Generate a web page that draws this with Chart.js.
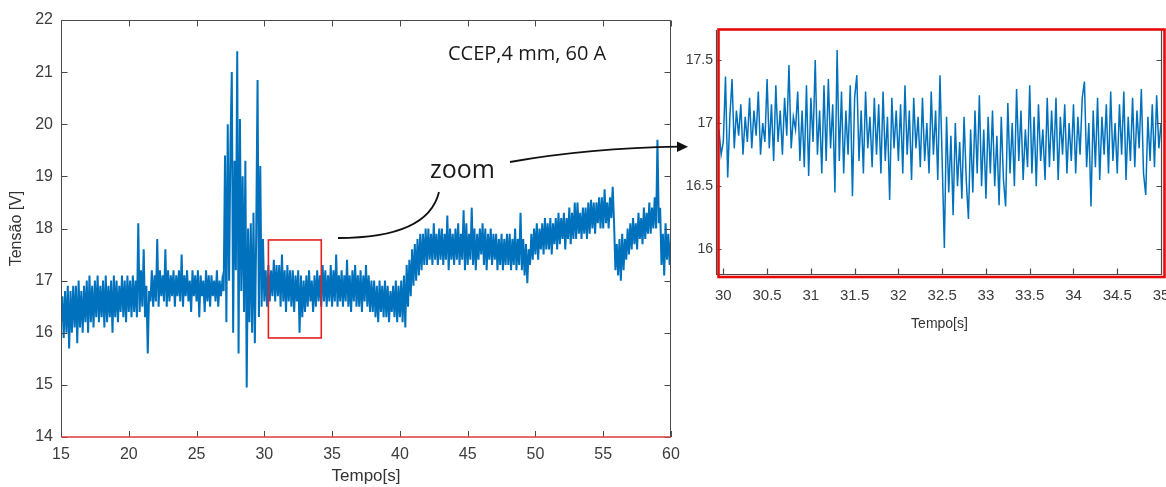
<!DOCTYPE html>
<html><head><meta charset="utf-8">
<script src="https://cdn.jsdelivr.net/npm/chart.js@4.4.1/dist/chart.umd.min.js"></script>
<style>
html,body{margin:0;padding:0;background:#fff;width:1166px;height:487px;overflow:hidden}
body{position:relative}
#c1{position:absolute;left:0;top:0}
#c2{position:absolute;left:680px;top:0}
#ov{position:absolute;left:0;top:0}
</style></head><body>
<canvas id="c1" width="690" height="487"></canvas>
<canvas id="c2" width="486" height="345"></canvas>
<svg id="ov" width="1166" height="487" xmlns="http://www.w3.org/2000/svg">
  <text x="448" y="60" font-family="Open Sans" font-size="20" fill="#1a1a1a">CCEP,4 mm, 60 A</text>
  <text x="430" y="178" font-family="Open Sans" font-size="25" fill="#1a1a1a">zoom</text>
  <path d="M338,238 Q428,238 439,192" stroke="#111" stroke-width="1.8" fill="none"/>
  <path d="M510,162 Q590,148 679,146.7" stroke="#111" stroke-width="1.8" fill="none"/>
  <polygon points="677,141.5 688,146.7 677,152" fill="#111"/>
</svg>
<script>
// ---------- DATA ----------
// Full record: sample start / step (s) and voltages (V)
const FULL_T0 = 15, FULL_DT = 0.1;
const FULL_V = [
16.2,16.7,15.9,16.8,16.0,16.9,15.7,16.8,16.0,16.9,
16.1,16.9,15.8,17.0,16.1,16.8,16.0,16.9,16.2,17.0,
16.0,17.1,16.2,16.9,16.1,17.0,16.3,17.1,16.2,16.9,
16.3,17.0,16.1,17.1,16.2,16.9,16.3,17.0,16.0,17.1,
16.3,17.0,16.2,16.9,16.4,17.1,16.3,17.0,16.2,17.1,
16.4,17.0,16.3,17.1,16.4,17.0,16.3,18.1,16.4,17.2,
16.5,17.6,16.3,16.9,15.6,16.8,16.6,17.2,16.5,17.1,
16.6,17.8,16.5,17.2,16.7,17.1,16.6,17.6,16.5,17.2,
16.6,17.1,16.7,17.2,16.5,17.1,16.7,17.2,16.6,17.5,
16.5,17.1,16.7,17.2,16.6,17.0,16.4,17.2,16.7,17.1,
16.6,17.2,16.3,17.1,16.7,17.0,16.4,17.2,16.6,17.1,
16.5,17.1,16.7,17.0,16.6,17.2,16.5,17.0,16.7,17.0,
16.8,19.4,16.2,20.0,17.0,19.6,21.0,16.0,19.3,17.2,
21.4,15.6,20.1,16.8,19.0,16.4,19.3,14.95,18.0,16.2,
18.1,16.0,18.3,15.8,17.9,20.85,16.3,19.2,16.5,17.8,
16.6,17.2,16.5,17.3,16.6,17.2,16.7,17.4,16.6,17.3,
16.7,17.3,16.5,17.5,16.6,17.2,16.4,17.3,16.6,17.2,
16.5,17.2,16.4,17.1,16.6,17.2,16.0,17.1,16.3,17.0,
16.4,17.1,16.5,17.2,16.6,17.0,16.4,17.1,16.5,17.2,
16.6,17.1,16.5,17.3,16.6,17.2,16.5,17.1,16.6,17.3,
16.5,17.2,16.6,17.5,16.5,17.1,16.6,17.2,16.5,17.1,
16.6,17.4,16.5,17.1,16.4,17.2,16.6,17.3,16.5,17.1,
16.5,17.2,16.4,17.1,16.6,17.3,16.5,17.1,16.4,17.0,
16.4,17.0,16.3,16.9,16.2,17.0,16.4,16.9,16.3,17.0,
16.3,16.9,16.2,16.8,16.4,16.9,16.3,17.0,16.2,16.9,
16.3,17.0,16.2,17.1,16.1,17.3,16.5,17.4,16.7,17.6,
16.9,17.7,17.0,17.8,17.1,17.9,17.2,17.9,17.3,18.0,
17.3,18.0,17.4,17.9,17.3,18.1,17.4,17.9,17.3,18.0,
17.4,18.0,17.3,17.9,17.4,18.25,17.2,18.0,17.4,17.9,
17.3,18.0,17.4,18.1,17.3,17.9,17.4,18.35,17.2,18.1,
17.3,17.9,17.4,18.4,17.3,18.0,17.2,17.9,17.4,18.0,
17.5,18.1,17.3,18.0,17.2,17.9,17.4,18.0,17.3,17.9,
17.4,17.9,17.2,17.8,17.3,17.9,17.2,17.8,17.3,17.9,
17.3,17.9,17.2,17.8,17.3,18.0,17.2,17.8,17.3,18.3,
17.2,17.8,17.1,17.7,16.95,17.6,17.3,17.9,17.4,18.0,
17.5,18.1,17.4,18.0,17.6,18.1,17.5,18.2,17.6,18.1,
17.6,18.2,17.5,18.1,17.7,18.2,17.6,18.3,17.7,18.2,
17.8,18.3,17.6,18.2,17.8,18.4,17.7,18.3,17.8,18.5,
17.8,18.5,17.9,18.3,17.8,18.4,17.9,18.4,17.8,18.5,
17.9,18.55,18.0,18.5,17.9,18.5,18.1,18.6,18.0,18.6,
18.0,18.75,18.1,18.5,18.0,18.6,18.2,18.8,18.1,17.2,
17.7,17.1,17.8,17.0,17.9,17.2,17.8,17.4,18.0,17.5,
18.1,17.6,18.2,17.7,18.1,17.6,18.3,17.8,18.2,17.7,
18.4,17.8,18.3,17.9,18.5,17.9,18.4,18.0,18.6,18.0,
19.7,18.1,18.4,17.3,17.9,17.1,18.1,17.4,17.9,17.3,
17.8
];
// Zoomed record 30-35 s
const ZOOM_T0 = 29.95, ZOOM_DT = 0.025;
const ZOOM_V = [
16.95,16.75,
16.85,17.37,16.57,17.05,17.35,16.80,17.10,16.90,17.15,16.75,
17.05,16.85,17.20,16.80,17.10,16.90,17.25,16.75,17.00,16.85,
17.35,16.80,17.15,16.70,17.30,16.85,17.10,16.75,17.20,16.90,
17.46,16.80,17.05,16.95,17.25,16.70,17.10,16.65,17.30,16.58,
17.20,16.85,17.50,16.75,17.10,16.60,17.30,16.70,17.35,16.80,
17.15,16.45,17.58,16.70,17.25,16.60,17.10,16.75,17.30,16.42,
17.20,17.38,16.70,17.10,16.60,17.25,16.80,17.05,16.65,17.20,
16.75,17.15,16.60,17.25,16.70,17.05,16.39,17.20,16.80,17.10,
16.70,17.15,16.60,17.30,16.75,17.10,16.55,17.20,16.80,17.05,
16.65,17.20,16.70,17.00,16.60,17.25,16.75,17.10,16.55,17.38,
16.70,16.01,17.05,16.45,16.90,16.27,17.00,16.50,16.85,16.40,
17.05,16.55,16.24,16.95,16.45,17.10,16.60,17.22,16.50,16.95,
16.40,17.05,16.60,17.10,16.50,16.90,16.35,17.05,16.55,16.34,
17.16,16.60,17.00,16.50,17.27,16.70,17.10,16.55,16.95,16.65,
17.30,16.60,17.05,16.50,17.15,16.70,16.95,16.55,17.20,16.65,
17.10,16.70,17.20,16.55,17.05,16.75,17.15,16.60,17.00,16.70,
17.15,16.60,17.05,16.75,17.20,17.33,16.65,17.00,16.34,17.10,
16.65,17.20,16.55,17.05,16.75,17.15,16.60,17.25,16.70,17.00,
16.60,17.15,16.75,17.25,16.55,17.05,16.70,17.20,16.65,17.10,
16.80,17.27,16.60,16.43,17.05,16.70,17.15,16.65,17.22,16.80,
17.00
];
const FULL_XTICKS = [15,20,25,30,35,40,45,50,55,60];
const FULL_YTICKS = [14,15,16,17,18,19,20,21,22];
const ZOOM_XTICKS = [30,30.5,31,31.5,32,32.5,33,33.5,34,34.5,35];
const ZOOM_YTICKS = [16,16.5,17,17.5];
const X_TITLE = 'Tempo[s]';
const Y_TITLE = 'Tensão [V]';
// zoom region marked on the full record (data units)
const MARK = {t0:30.3, t1:34.2, v0:15.9, v1:17.78};

// ---------- CHARTS ----------
const BLUE = 'rgb(0,114,189)';
const AX = '#4a4a4a';
const full = FULL_V.map((v,i)=>({x: FULL_T0 + i*FULL_DT, y: v}));
const zoom = ZOOM_V.map((v,i)=>({x: ZOOM_T0 + i*ZOOM_DT, y: v}));
const setTicks = arr => s => { s.ticks = arr.map(v=>({value:v})); };
const crisp = v => Math.round(v) + 0.5;

const fullPlugin = {
  id:'fullBox',
  afterDraw(chart){
    const {ctx, chartArea:a, scales:{x,y}} = chart;
    const L=crisp(a.left), R=crisp(a.right)-1, T=crisp(a.top), B=Math.round(a.bottom);
    ctx.save();
    ctx.strokeStyle = AX; ctx.lineWidth = 1;
    ctx.beginPath();
    ctx.moveTo(L,B); ctx.lineTo(L,T); ctx.lineTo(R,T); ctx.lineTo(R,B);
    FULL_XTICKS.forEach(v=>{const p=crisp(x.getPixelForValue(v)); ctx.moveTo(p,B); ctx.lineTo(p,B-6); ctx.moveTo(p,T); ctx.lineTo(p,T+6);});
    FULL_YTICKS.forEach(v=>{const p=crisp(y.getPixelForValue(v)); ctx.moveTo(L,p); ctx.lineTo(L+6,p); ctx.moveTo(R,p); ctx.lineTo(R-6,p);});
    ctx.stroke();
    ctx.strokeStyle = 'rgb(215,60,60)'; ctx.lineWidth = 1.5;
    ctx.beginPath(); ctx.moveTo(L,B); ctx.lineTo(R+0.5,B); ctx.stroke();
    // zoom marker rectangle
    const x0=x.getPixelForValue(MARK.t0), x1=x.getPixelForValue(MARK.t1);
    const y0=y.getPixelForValue(MARK.v1), y1=y.getPixelForValue(MARK.v0);
    ctx.strokeStyle = 'rgb(228,32,32)'; ctx.lineWidth = 1.6;
    ctx.strokeRect(x0, y0, x1-x0, y1-y0);
    ctx.restore();
  }
};

const zoomPlugin = {
  id:'zoomBox',
  afterDraw(chart){
    const {ctx, chartArea:a, scales:{x,y}} = chart;
    const L=a.left-0.5, R=a.right-0.5, B=a.bottom+0.5, T=a.top;
    ctx.save();
    ctx.strokeStyle = AX; ctx.lineWidth = 1.2;
    ctx.beginPath();
    ctx.moveTo(L,T); ctx.lineTo(L,B); ctx.lineTo(R,B); ctx.lineTo(R,T);
    ZOOM_XTICKS.forEach(v=>{const p=crisp(x.getPixelForValue(v)); ctx.moveTo(p,B); ctx.lineTo(p,B-6);});
    ZOOM_YTICKS.forEach(v=>{const p=crisp(y.getPixelForValue(v)); ctx.moveTo(L,p); ctx.lineTo(L+5,p); ctx.moveTo(R,p); ctx.lineTo(R-5,p);});
    ctx.stroke();
    ctx.strokeStyle = 'rgb(232,10,10)'; ctx.lineWidth = 2.6;
    ctx.strokeRect(a.left+1.5, a.top-0.5, (a.right+2.5)-(a.left+1.5), (a.bottom+3)-(a.top-0.5));
    ctx.restore();
  }
};

Chart.defaults.animation = false;
Chart.defaults.font.family = '"Liberation Sans", Arial, sans-serif';

new Chart(document.getElementById('c1'), {
  type:'line',
  data:{datasets:[{data:full, borderColor:BLUE, borderWidth:2, pointRadius:0, tension:0, fill:false}]},
  options:{
    responsive:false, parsing:false, normalized:true,
    layout:{padding:{top:20,right:19,left:0,bottom:0}},
    plugins:{legend:{display:false}, tooltip:{enabled:false}},
    scales:{
      x:{type:'linear', min:15, max:60, border:{display:false},
        grid:{display:false, drawTicks:false},
        afterBuildTicks:setTicks(FULL_XTICKS),
        ticks:{padding:8, color:'#3c3c3c', font:{size:16}, maxRotation:0, autoSkip:false, callback:v=>String(v)},
        title:{display:true, text:X_TITLE, color:'#333', font:{size:17}, padding:{top:0,bottom:0}},
        afterFit:s=>{s.height=50; s.paddingLeft=0; s.paddingRight=0;}},
      y:{type:'linear', min:14, max:22, border:{display:false},
        grid:{display:false, drawTicks:false},
        afterBuildTicks:setTicks(FULL_YTICKS),
        ticks:{padding:8, color:'#3c3c3c', font:{size:16}, autoSkip:false, callback:v=>String(v)},
        title:{display:true, text:Y_TITLE, color:'#333', font:{size:16}, padding:{top:7,bottom:0}},
        afterFit:s=>{s.width=61; s.paddingTop=0; s.paddingBottom=0;}}
    }
  },
  plugins:[fullPlugin]
});

new Chart(document.getElementById('c2'), {
  type:'line',
  data:{datasets:[{data:zoom, borderColor:BLUE, borderWidth:1.5, pointRadius:0, tension:0, fill:false}]},
  options:{
    responsive:false, parsing:false, normalized:true,
    layout:{padding:{top:30,right:4,left:0,bottom:0}},
    plugins:{legend:{display:false}, tooltip:{enabled:false}},
    scales:{
      x:{type:'linear', min:29.928, max:35.011, border:{display:false},
        grid:{display:false, drawTicks:false},
        afterBuildTicks:setTicks(ZOOM_XTICKS),
        ticks:{padding:13, color:'#3c3c3c', font:{size:15}, maxRotation:0, autoSkip:false, callback:v=>String(v)},
        title:{display:true, text:X_TITLE, color:'#333', font:{size:14}, padding:{top:0,bottom:12}},
        afterFit:s=>{s.height=71; s.paddingLeft=0; s.paddingRight=0;}},
      y:{type:'linear', min:15.804, max:17.738, border:{display:false},
        grid:{display:false, drawTicks:false},
        afterBuildTicks:setTicks(ZOOM_YTICKS),
        ticks:{padding:4, color:'#3c3c3c', font:{size:14}, autoSkip:false, callback:v=>String(v)},
        afterFit:s=>{s.width=37; s.paddingTop=0; s.paddingBottom=0;}}
    }
  },
  plugins:[zoomPlugin]
});
</script>
</body></html>
